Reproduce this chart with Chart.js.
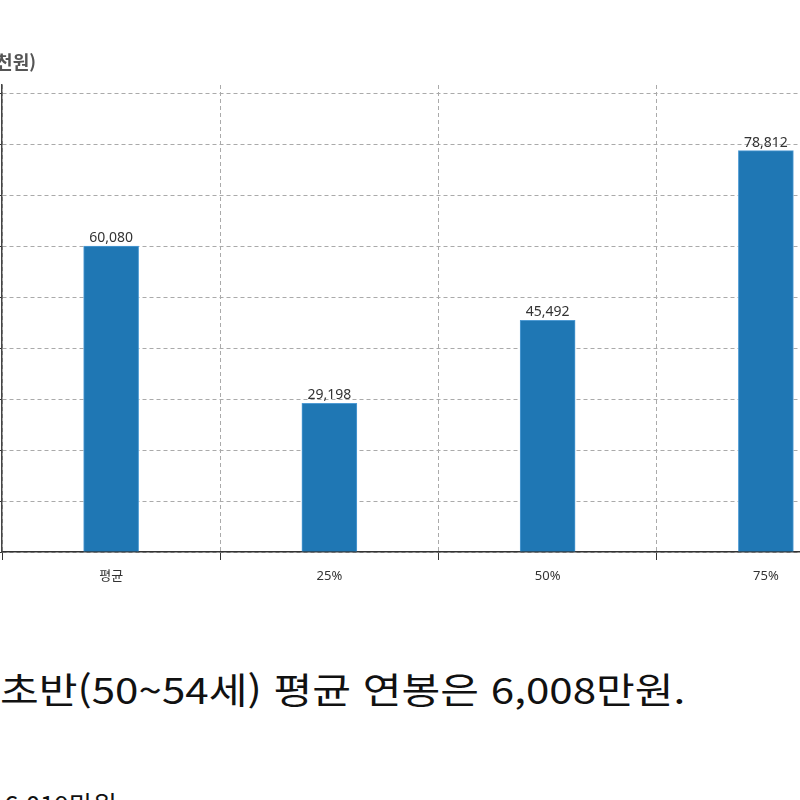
<!DOCTYPE html>
<html lang="ko">
<head>
<meta charset="utf-8">
<script src="https://cdn.jsdelivr.net/npm/chart.js@4.4.1/dist/chart.umd.min.js"></script>
<style>
    html, body { margin: 0; padding: 0; background: #fff; width: 800px; height: 800px; overflow: hidden; }
    #chart-wrap { position: absolute; left: -67px; top: 0; width: 950px; height: 600px; }
    .line { position: absolute; white-space: nowrap; font-family: 'Noto Sans CJK KR', sans-serif; color: #111; line-height: 1; transform-origin: 0 0; }
    #summary { left: 0; top: 670px; font-size: 36px; transform: scaleX(1.17); }
    #next { left: 4px; top: 791px; font-size: 26px; }
</style>
</head>
<body>
<div id="chart-wrap"><canvas id="salary-chart" width="950" height="600"></canvas></div>
<div class="line" id="summary">초반(50~54세) 평균 연봉은 6,008만원.</div>
<div class="line" id="next">6,019만원</div>

<script>
// values in 천원
const categories = ['평균', '25%', '50%', '75%'];
const salaries = [60080, 29198, 45492, 78812];
const yTicks = [0, 10000, 20000, 30000, 40000, 50000, 60000, 70000, 80000, 90000];
const unitLabel = '(천원)';

const barLabels = {
    id: 'barLabels',
    afterDatasetsDraw(chart) {
        const ctx = chart.ctx;
        const meta = chart.getDatasetMeta(0);
        ctx.save();
        ctx.font = "14px 'Noto Sans', sans-serif";
        ctx.fillStyle = '#333';
        ctx.textAlign = 'center';
        ctx.textBaseline = 'bottom';
        meta.data.forEach((bar, i) => {
            ctx.fillText(salaries[i].toLocaleString('en-US'), bar.x, bar.y - 1);
        });
        ctx.restore();
    }
};

const unitTitle = {
    id: 'unitTitle',
    afterDraw(chart) {
        const ctx = chart.ctx;
        ctx.save();
        ctx.font = "bold 18px 'Noto Sans CJK KR', sans-serif";
        ctx.fillStyle = '#555';
        ctx.textAlign = 'right';
        ctx.textBaseline = 'middle';
        ctx.fillText(unitLabel, chart.chartArea.left + 34, 62);
        ctx.restore();
    }
};

const ctx = document.getElementById('salary-chart').getContext('2d');
window.salaryChart = new Chart(ctx, {
    type: 'bar',
    data: {
        labels: categories,
        datasets: [{
            data: salaries,
            backgroundColor: '#1f77b4',
            borderColor: '#4f9bd4',
            borderWidth: 1,
            barThickness: 55,
        }],
    },
    options: {
        responsive: false,
        animation: false,
        devicePixelRatio: 1,
        layout: { padding: { top: 85, right: 8, left: 0, bottom: 0 } },
        plugins: {
            legend: { display: false },
            tooltip: { enabled: false },
        },
        scales: {
            x: {
                afterFit: (scale) => { scale.height = 48; },
                grid: {
                    offset: true,
                    color: '#aaa',
                    tickColor: '#333',
                    tickLength: 8,
                },
                border: { color: '#333', width: 1.5, dash: [4, 3] },
                ticks: {
                    color: '#333',
                    padding: 8,
                    font: { family: "'Noto Sans', 'Noto Sans CJK KR', sans-serif", size: 13 },
                },
            },
            y: {
                min: 0,
                max: 91700,
                afterFit: (scale) => { scale.width = 69; },
                afterBuildTicks: (scale) => {
                    scale.ticks = yTicks.map(v => ({ value: v }));
                },
                grid: {
                    color: '#aaa',
                    tickColor: '#333',
                    tickLength: 6,
                },
                border: { color: '#444', width: 1.5, dash: [4, 3] },
                ticks: {
                    color: '#333',
                    font: { family: "'Noto Sans', sans-serif", size: 13 },
                    callback: (v) => v.toLocaleString('en-US'),
                },
            },
        },
    },
    plugins: [barLabels, unitTitle],
});
</script>
</body>
</html>
